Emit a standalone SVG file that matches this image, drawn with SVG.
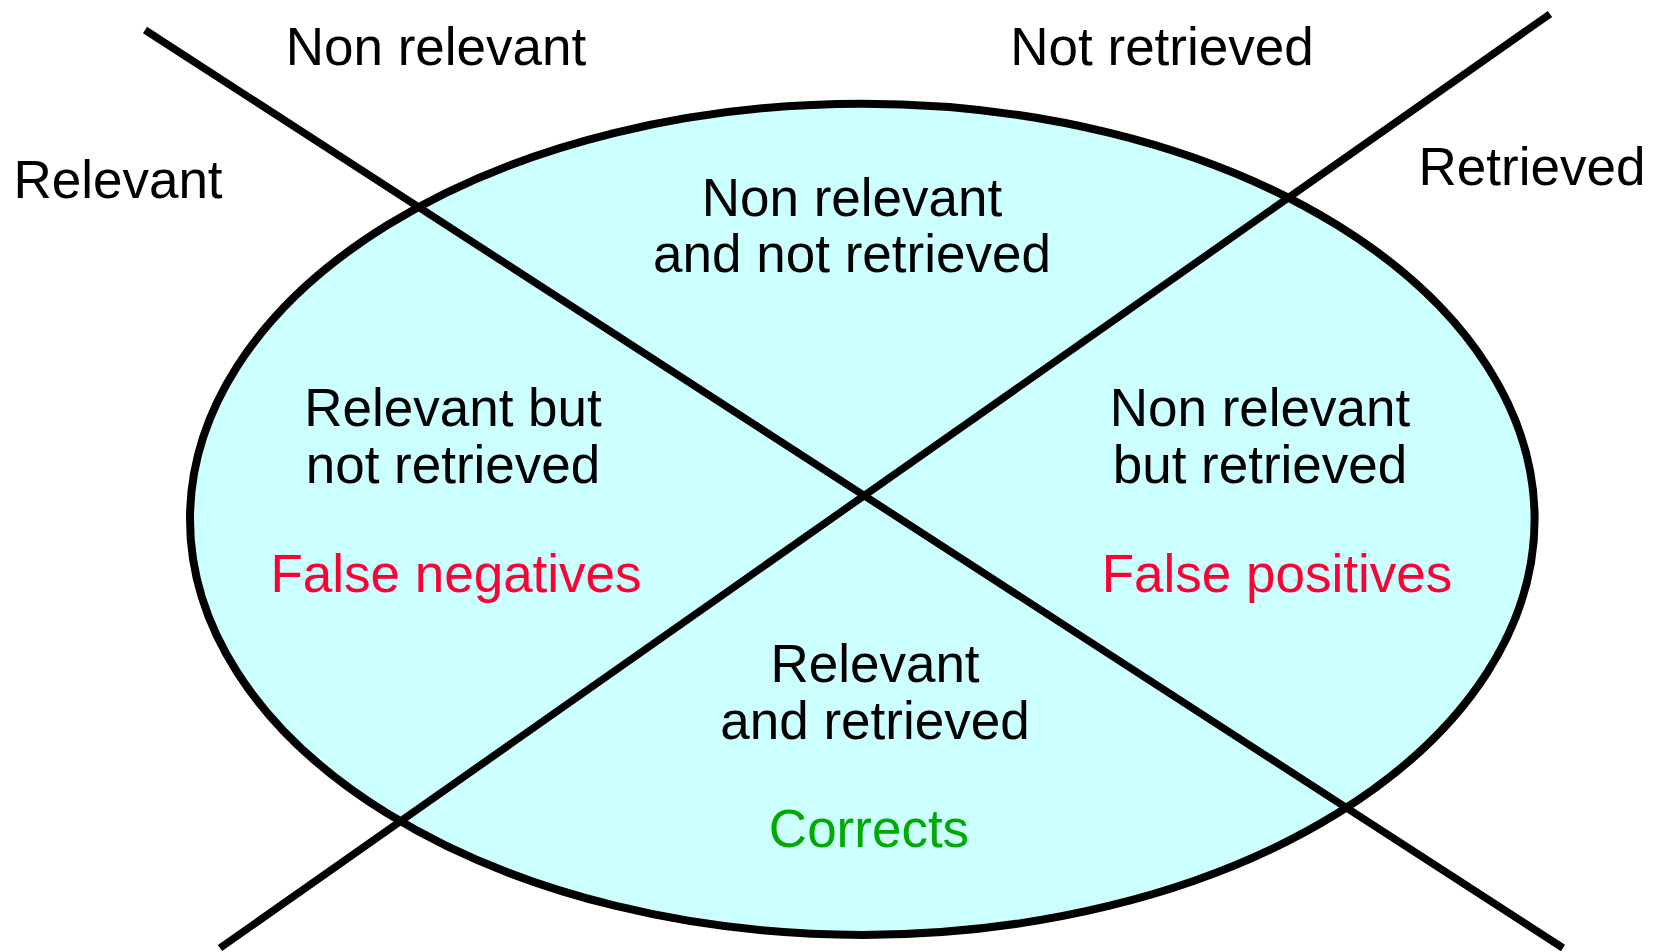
<svg xmlns="http://www.w3.org/2000/svg" width="1657" height="952" viewBox="0 0 1657 952">
<style>
.t{font-family:"Liberation Sans",Arial,sans-serif;font-size:53px;fill:#000;text-anchor:middle}
.red{fill:#FF0033}
.green{fill:#00AA00}
.ln{stroke:#000;stroke-width:7.5;fill:none}
</style>
<rect width="1657" height="952" fill="#fff"/>
<g id="ellipse">
<ellipse cx="862.3" cy="519.3" rx="672.3" ry="415.6" fill="#CCFFFF" stroke="#000" stroke-width="8"/>
</g>
<g id="connectors">
<line class="ln" x1="145" y1="30" x2="1563" y2="948"/>
<line class="ln" x1="220" y1="948" x2="1550" y2="14"/>
</g>
<g id="label-nonrelevant"><text class="t" x="436" y="65">Non relevant</text></g>
<g id="label-notretrieved"><text class="t" x="1162" y="65">Not retrieved</text></g>
<g id="label-relevant"><text class="t" x="118" y="198">Relevant</text></g>
<g id="label-retrieved"><text class="t" x="1532" y="185">Retrieved</text></g>
<g id="region-top"><text class="t" x="852" y="216">Non relevant</text><text class="t" x="852" y="272">and not retrieved</text></g>
<g id="region-left"><text class="t" x="453" y="426">Relevant but</text><text class="t" x="453" y="483">not retrieved</text><text class="t red" x="456" y="592">False negatives</text></g>
<g id="region-right"><text class="t" x="1260" y="426">Non relevant</text><text class="t" x="1260" y="483">but retrieved</text><text class="t red" x="1277" y="592">False positives</text></g>
<g id="region-bottom"><text class="t" x="875" y="682">Relevant</text><text class="t" x="875" y="739">and retrieved</text><text class="t green" x="869" y="847">Corrects</text></g>
</svg>
